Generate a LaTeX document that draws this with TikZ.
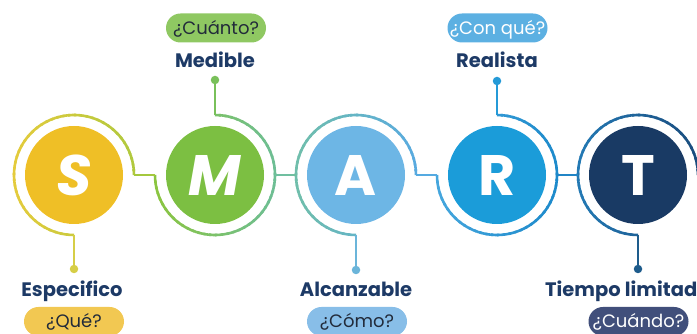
\documentclass[tikz,border=0pt]{standalone}
\usepackage{fontspec}
\setmainfont{Poppins}
\usetikzlibrary{calc}
\definecolor{navy}{HTML}{1D3A66}
\definecolor{pilltxt}{HTML}{222B3A}
\definecolor{fS}{HTML}{EFBF26}
\definecolor{fM}{HTML}{7CBF42}
\definecolor{fA}{HTML}{6DB6E5}
\definecolor{fR}{HTML}{1B9CD9}
\definecolor{fT}{HTML}{193A64}
\definecolor{SL}{HTML}{E4CB3C}\definecolor{SR}{HTML}{B0C93E}
\definecolor{ML}{HTML}{8BC540}\definecolor{MR}{HTML}{6DBE95}
\definecolor{AL}{HTML}{70BEAB}\definecolor{AR}{HTML}{59AAE0}
\definecolor{RL}{HTML}{45A6DD}\definecolor{RR}{HTML}{1D8ACB}
\definecolor{TL}{HTML}{2379B4}\definecolor{TR}{HTML}{1A4C7D}
\definecolor{cSM}{HTML}{A4C83E}
\definecolor{cMA}{HTML}{70BFA0}
\definecolor{cAR}{HTML}{55AAE1}
\definecolor{cRT}{HTML}{2185C6}
\definecolor{sS}{HTML}{D6CE47}
\definecolor{sM}{HTML}{79C05A}
\definecolor{sA}{HTML}{6BB5DA}
\definecolor{sR}{HTML}{259AD7}
\definecolor{sT}{HTML}{1E5C8C}
\definecolor{pQ}{HTML}{F2C852}
\definecolor{pM}{HTML}{8FC862}
\definecolor{pA}{HTML}{88BEE8}
\definecolor{pR}{HTML}{5CB0E2}
\definecolor{pT}{HTML}{414F7B}
\newcommand\ringarc[5]{%
  \foreach \k in {0,...,47}{%
    \pgfmathsetmacro\aa{#2+\k*(#3-#2)/48}%
    \pgfmathsetmacro\bb{ifthenelse(\k==47,#3,#2+(\k+1.4)*(#3-#2)/48)}%
    \pgfmathsetmacro\mm{#2+(\k+0.5)*(#3-#2)/48}%
    \pgfmathtruncatemacro\w{50*(1+cos(\mm))}%
    \draw[ring, draw=#5!\w!#4] ($(#1)+(\aa:60)$) arc[start angle=\aa, end angle=\bb, radius=60];
  }}
\begin{document}
\begin{tikzpicture}[x=1pt,y=1pt,
  ring/.style={line width=2.6pt, line cap=butt},
  stem/.style={line width=2.6pt},
  disc/.style={circle, inner sep=0pt, minimum size=98pt, text=white,
    font=\fontsize{57}{57}\selectfont\bfseries},
  dotnode/.style={circle, inner sep=0pt, minimum size=8.5pt},
  lbl/.style={anchor=base, text=navy, inner sep=0pt,
    font=\fontsize{19.5}{20}\selectfont\bfseries},
  pill/.style={rounded corners=14.5pt, minimum width=100pt, minimum height=29pt,
    inner sep=0pt, text height=12.5pt, text depth=0pt,
    font=\fontsize{18}{18}\selectfont}]
\useasboundingbox (0,0) rectangle (697,334);
% discs
\node[disc, fill=fS] (S) at (74,159) {\itshape S};
\node[disc, fill=fM] (M) at (215,159) {\itshape M};
\node[disc, fill=fA] (A) at (356,159) {A};
\node[disc, fill=fR] (R) at (497,159) {R};
\node[disc, fill=fT] (T) at (638,159) {T};
% ring anchor points
\coordinate (Sr) at ($(S)+(60,0)$);
\coordinate (Ml) at ($(M)+(-60,0)$);
\coordinate (Mr) at ($(M)+(60,0)$);
\coordinate (Al) at ($(A)+(-60,0)$);
\coordinate (Ar) at ($(A)+(60,0)$);
\coordinate (Rl) at ($(R)+(-60,0)$);
\coordinate (Rr) at ($(R)+(60,0)$);
\coordinate (Tl) at ($(T)+(-60,0)$);
\coordinate (Sb) at ($(S)+(0,-60)$);
\coordinate (Mt) at ($(M)+(0,60)$);
\coordinate (Ab) at ($(A)+(0,-60)$);
\coordinate (Rt) at ($(R)+(0,60)$);
\coordinate (Tb) at ($(T)+(0,-60)$);
% rings
\ringarc{S}{270}{0}{SL}{SR}
\ringarc{M}{180}{450}{ML}{MR}
\ringarc{A}{270}{0}{AL}{AR}
\ringarc{R}{180}{450}{RL}{RR}
\ringarc{T}{270}{0}{TL}{TR}
% connectors between rings
\draw[ring, cSM] (Sr) -- (Ml);
\draw[ring, cMA] (Mr) -- (Al);
\draw[ring, cAR] (Ar) -- (Rl);
\draw[ring, cRT] (Rr) -- (Tl);
% stems and dots
\node[dotnode, fill=sS] (dS) at (74,65) {};
\node[dotnode, fill=sM] (dM) at (215,254) {};
\node[dotnode, fill=sA] (dA) at (356,64) {};
\node[dotnode, fill=sR] (dR) at (497,253) {};
\node[dotnode, fill=sT] (dT) at (638,65) {};
\draw[stem, sS] (Sb) -- (dS.center);
\draw[stem, sM] (Mt) -- (dM.center);
\draw[stem, sA] (Ab) -- (dA.center);
\draw[stem, sR] (Rt) -- (dR.center);
\draw[stem, sT] (Tb) -- (dT.center);
% labels
\node[lbl] (lS) at (72,37) {Especifico};
\node[lbl] (lM) at (215,266) {Medible};
\node[lbl] (lA) at (356,37) {Alcanzable};
\node[lbl] (lR) at (497,266) {Realista};
\node[lbl, anchor=base west] (lT) at (545,37) {Tiempo limitad};
% pills
\node[pill, fill=pQ, text=pilltxt] (qS) at (74,12.5) {¿Qué?};
\node[pill, fill=pM, text=pilltxt] (qM) at (216,306) {¿Cuánto?};
\node[pill, fill=pA, text=pilltxt] (qA) at (357,12.5) {¿Cómo?};
\node[pill, fill=pR, text=white] (qR) at (497.5,306) {¿Con qué?};
\node[pill, fill=pT, text=white] (qT) at (638.5,12.5) {¿Cuándo?};
\end{tikzpicture}
\end{document}
